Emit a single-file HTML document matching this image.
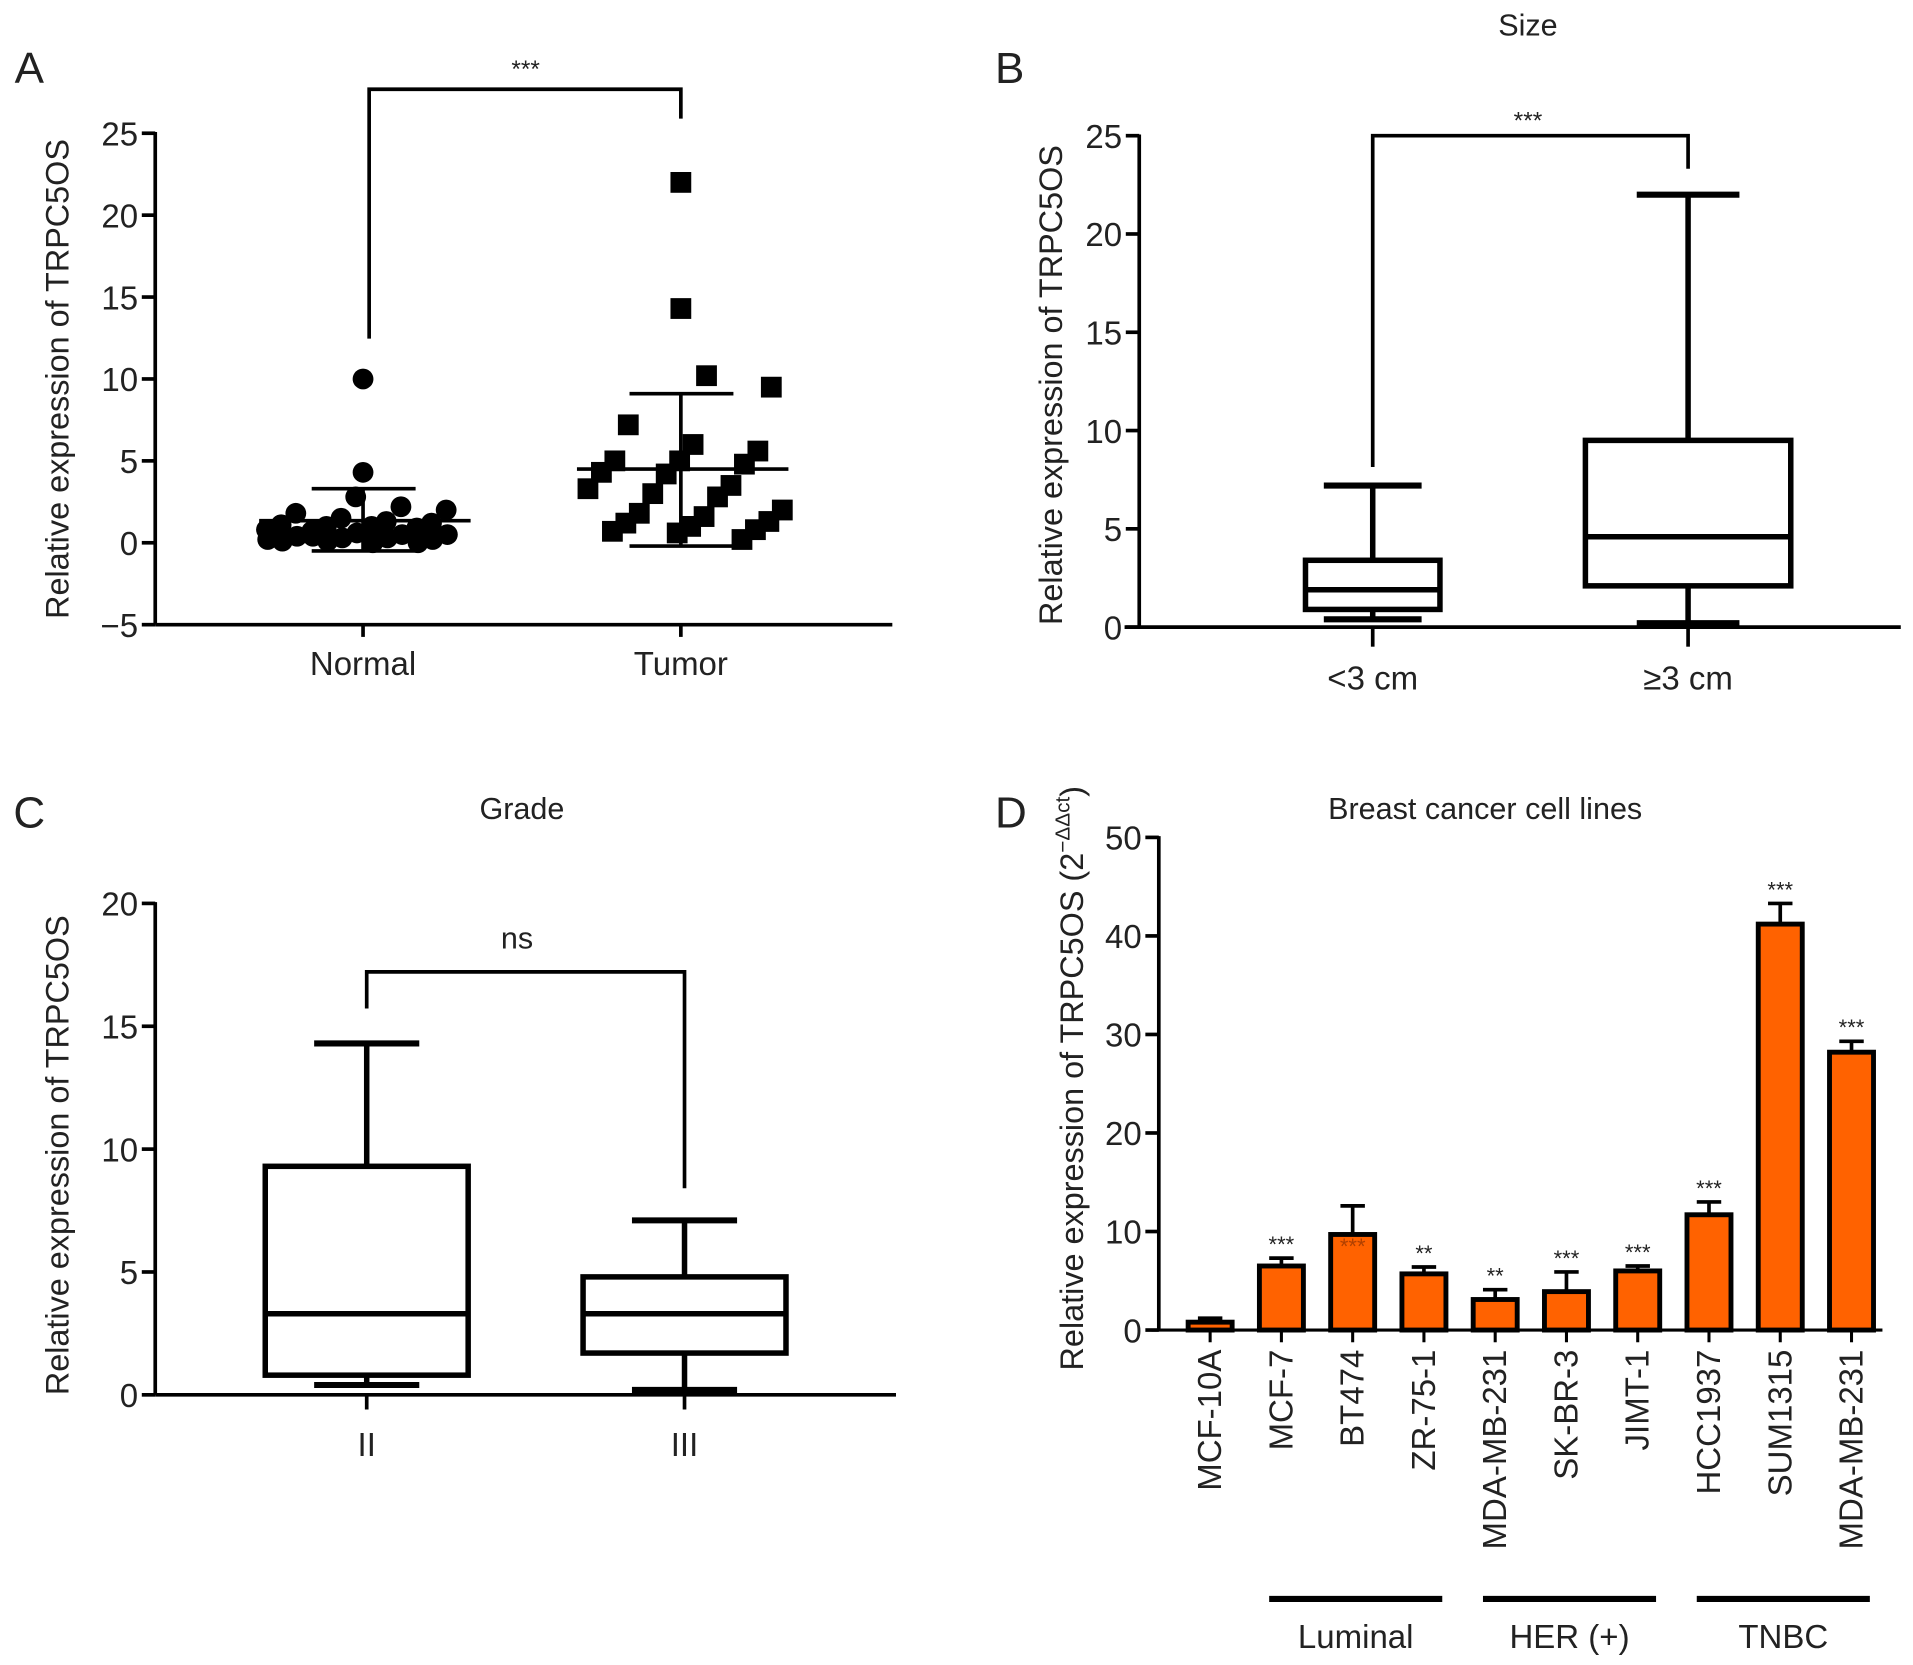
<!DOCTYPE html>
<html><head><meta charset="utf-8"><style>
html,body{margin:0;padding:0;background:#fff;}
svg{display:block;font-family:"Liberation Sans",Arial,sans-serif;}
</style></head><body>
<svg id="fig" width="1913" height="1665" viewBox="0 0 1565 1362" preserveAspectRatio="none" xmlns="http://www.w3.org/2000/svg"></svg>
<script>
// Panel A data
const normalVals = [10, 4.3, 2.8, 2.2, 2.0, 1.8, 1.5, 1.3, 1.2, 1.1, 1.0, 1.0, 0.9, 0.8, 0.7, 0.6, 0.5, 0.5, 0.4, 0.3, 0.3, 0.2, 0.1, 0.1, 0.0, 0.0, 0.2, 0.4];
const normalStats = [1.35, 3.3, -0.5]; // mean, +sd, -sd
const tumorVals = [22, 14.3, 10.2, 9.5, 7.2, 6.0, 5.6, 5.0, 5.0, 4.8, 4.3, 4.2, 3.5, 3.3, 3.0, 2.8, 2.0, 1.8, 1.6, 1.3, 1.2, 1.0, 0.8, 0.7, 0.6, 0.2];
const tumorStats = [4.5, 9.1, -0.2];
const aTicks = [-5, 0, 5, 10, 15, 20, 25];
// Panel B data: min, q1, median, q3, max
const bCats = ["<3 cm", "\u22653 cm"];
const bBoxes = [[0.4, 0.9, 1.9, 3.4, 7.2], [0.2, 2.1, 4.6, 9.5, 22]];
const bTicks = [0, 5, 10, 15, 20, 25];
// Panel C data
const cCats = ["II", "III"];
const cBoxes = [[0.4, 0.8, 3.3, 9.3, 14.3], [0.2, 1.7, 3.3, 4.8, 7.1]];
const cTicks = [0, 5, 10, 15, 20];
// Panel D data
const dCats = ["MCF-10A","MCF-7","BT474","ZR-75-1","MDA-MB-231","SK-BR-3","JIMT-1","HCC1937","SUM1315","MDA-MB-231"];
const dVals = [0.8, 6.5, 9.7, 5.7, 3.1, 3.9, 6.0, 11.7, 41.2, 28.2];
const dErr = [0.4, 0.8, 2.9, 0.7, 1.0, 2.0, 0.5, 1.3, 2.1, 1.1];
const dStars = ["", "***", "***", "**", "**", "***", "***", "***", "***", "***"];
const dTicks = [0, 10, 20, 30, 40, 50];

const NS = "http://www.w3.org/2000/svg";
const svg = document.getElementById("fig");
const TICK = 27, TITLE = 26.5;
function el(tag, attrs, parent, text) {
  const e = document.createElementNS(NS, tag);
  for (const k in attrs) e.setAttribute(k, attrs[k]);
  if (text !== undefined) e.textContent = text;
  (parent || svg).appendChild(e);
  return e;
}
function line(x1, y1, x2, y2, w, p) { return el("line", {x1, y1, x2, y2, stroke: "#000", "stroke-width": w || 3}, p); }
function txt(x, y, s, size, p, anchor, extra) {
  const a = Object.assign({x, y, "font-size": size, "text-anchor": anchor || "middle", fill: "#222"}, extra || {});
  return el("text", a, p, s);
}
function ylabel(x, y, s, size, p) {
  return el("text", {x: 0, y: 0, "font-size": size, "text-anchor": "middle", fill: "#222", transform: `translate(${x},${y}) rotate(-90)`}, p, s);
}
function yAxis(g, x, yTop, yBot, ticks, scale) {
  line(x, yTop - 1, x, yBot, 3, g);
  ticks.forEach(v => {
    const y = scale(v);
    line(x - 11, y, x, y, 3, g);
    const t = txt(x - 14, y + 10, v < 0 ? "\u2212" + (-v) : String(v), TICK, g, "end");
    
    
  });
}
function boxes(g, xs, data, scale, halfWs, capWs, name) {
  data.forEach((b, i) => {
    const x = xs[i], halfW = halfWs[i], capW = capWs[i];
    const gb = el("g", {}, g);
    
    
    line(x, scale(b[0]), x, scale(b[1]), 4.5, gb);
    line(x, scale(b[3]), x, scale(b[4]), 4.5, gb);
    line(x - capW, scale(b[0]), x + capW, scale(b[0]), 5, gb);
    line(x - capW, scale(b[4]), x + capW, scale(b[4]), 5, gb);
    el("rect", {x: x - halfW, y: scale(b[3]), width: 2 * halfW, height: scale(b[1]) - scale(b[3]), fill: "none", stroke: "#000", "stroke-width": 4.5}, gb);
    line(x - halfW, scale(b[2]), x + halfW, scale(b[2]), 4.5, gb);
  });
}

// ===== Panel A =====
const gA = el("g", {});


const yA = v => 444 - v * 13.4;
txt(24, 68, "A", 36, gA);
yAxis(gA, 127, yA(25), yA(-5), aTicks, yA);
line(127, yA(-5), 730, yA(-5), 3, gA);
const aX = [297, 557];
["Normal", "Tumor"].forEach((c, i) => {
  line(aX[i], yA(-5), aX[i], yA(-5) + 10, 3, gA);
  const t = txt(aX[i], 552, c, TICK, gA);
  
  
});
ylabel(56, 310, "Relative expression of TRPC5OS", TITLE, gA);
el("path", {d: `M302,277 L302,73 L557,73 L557,97`, fill: "none", stroke: "#000", "stroke-width": 3}, gA);
txt(430, 63, "***", 20, gA);
normalVals.forEach((v, i) => {
  const off = v > 3.5 ? 0 : ((i * 37) % 160) - 80;
  const c = el("circle", {cx: aX[0] + off, cy: yA(v), r: 8.5, fill: "#000"}, gA);
  
  
});
tumorVals.forEach((v, i) => {
  const off = v > 12 ? 0 : ((i * 53) % 170) - 85;
  const r = el("rect", {x: aX[1] + off - 8.5, y: yA(v) - 8.5, width: 17, height: 17, fill: "#000"}, gA);
  
  
});
[[aX[0], normalStats], [aX[1], tumorStats]].forEach(([x, s]) => {
  line(x - 85, yA(s[0]), x + 88, yA(s[0]), 3, gA);
  line(x, yA(s[1]), x, yA(s[2]), 3, gA);
  line(x - 42, yA(s[1]), x + 43, yA(s[1]), 3, gA);
  line(x - 42, yA(s[2]), x + 43, yA(s[2]), 3, gA);
});

// ===== Panel B =====
const gB = el("g", {});


const yB = v => 513 - v * 16.08;
txt(826, 68, "B", 36, gB);
txt(1250, 29, "Size", 25, gB);
yAxis(gB, 932, yB(25), yB(0), bTicks, yB);
line(920, yB(0), 1555, yB(0), 3, gB);
const bX = [1123, 1381];
bCats.forEach((c, i) => {
  line(bX[i], yB(0), bX[i], yB(0) + 16, 3, gB);
  const t = txt(bX[i], 564, c, TICK, gB);
  
  
});
ylabel(869, 315, "Relative expression of TRPC5OS", TITLE, gB);
el("path", {d: `M1123,382 L1123,111 L1381,111 L1381,138`, fill: "none", stroke: "#000", "stroke-width": 3}, gB);
txt(1250, 105, "***", 20, gB);
boxes(gB, bX, bBoxes, yB, [55, 84], [40, 42], 'box-b');

// ===== Panel C =====
const gC = el("g", {});


const yC = v => 1141 - v * 20.1;
txt(24, 677, "C", 36, gC);
txt(427, 670, "Grade", 25, gC);
yAxis(gC, 127, yC(20), yC(0), cTicks, yC);
line(127, yC(0), 733, yC(0), 3, gC);
const cX = [300, 560];
cCats.forEach((c, i) => {
  line(cX[i], yC(0), cX[i], yC(0) + 12, 3, gC);
  const t = txt(cX[i], 1191, c, TICK, gC);
  
  
});
ylabel(56, 945, "Relative expression of TRPC5OS", TITLE, gC);
el("path", {d: `M300,825 L300,795 L560,795 L560,972`, fill: "none", stroke: "#000", "stroke-width": 3}, gC);
txt(423, 776, "ns", 25, gC);
boxes(gC, cX, cBoxes, yC, [83, 83], [43, 43], 'box-c');

// ===== Panel D =====
const gD = el("g", {});


const yD = v => 1088 - v * 8.06;
const xD = i => 990 + i * 58.3;
txt(827, 677, "D", 36, gD);
txt(1215, 670, "Breast cancer cell lines", 25, gD);
yAxis(gD, 948, yD(50), yD(0), dTicks, yD);
line(942, yD(0), 1540, yD(0), 2.5, gD);
const yl = el("text", {x: 0, y: 0, "font-size": TITLE, "text-anchor": "middle", fill: "#222", transform: "translate(886,882) rotate(-90)"}, gD);


el("tspan", {}, yl, "Relative expression of TRPC5OS (2");
el("tspan", {"font-size": 17, dy: -11}, yl, "\u2212\u0394\u0394ct");
el("tspan", {dy: 11}, yl, ")");
dCats.forEach((c, i) => {
  const x = xD(i);
  const w = 36;
  const eTop = yD(dVals[i] + dErr[i]);
  line(x, eTop, x, yD(dVals[i]), 3, gD);
  line(x - 10, eTop, x + 10, eTop, 3, gD);
  const r = el("rect", {x: x - w / 2, y: yD(dVals[i]), width: w, height: yD(0) - yD(dVals[i]), fill: "#ff6200", stroke: "#000", "stroke-width": 4}, gD);
  
  
  line(x, yD(0), x, yD(0) + 10, 2.5, gD);
  if (dStars[i]) {
    if (i === 2) txt(x, yD(dVals[i]) + 16, dStars[i], 18, gD, "middle", {fill: "#b04000"});
    else txt(x, eTop - 5, dStars[i], 18, gD);
  }
  const t = el("text", {x: 0, y: 0, "font-size": TICK, "text-anchor": "end", fill: "#222", transform: `translate(${x + 9},1104) rotate(-90)`}, gD, c);
  
  
});
[["Luminal", 1, 3], ["HER (+)", 4, 6], ["TNBC", 7, 9]].forEach(([n, a, b]) => {
  const x1 = xD(a) - 10, x2 = xD(b) + 15;
  const l = line(x1, 1308, x2, 1308, 5, gD);
  
  
  const t = txt((x1 + x2) / 2, 1348, n, TICK, gD);
  
  
});
</script>
</body></html>
